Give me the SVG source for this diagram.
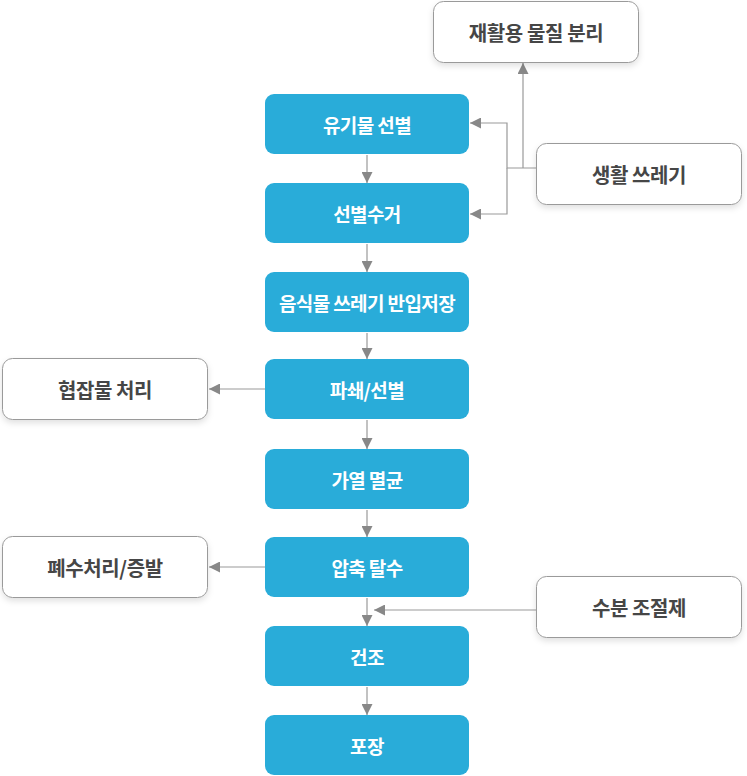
<svg xmlns="http://www.w3.org/2000/svg" width="747" height="776" viewBox="0 0 747 776">
<style>
.b rect{fill:#29acd9}
.b text{fill:#fff;font-family:"Noto Sans CJK KR","Noto Sans",sans-serif;font-size:19px;font-weight:700;text-anchor:middle;dominant-baseline:central;letter-spacing:-0.6px}
.w rect{fill:#fff;stroke:#9a9a9a;stroke-width:1;filter:url(#sh)}
.w text{fill:#464646;font-family:"Noto Sans CJK KR","Noto Sans",sans-serif;font-size:20px;font-weight:700;text-anchor:middle;dominant-baseline:central;letter-spacing:-0.4px}
#edges path{fill:none;stroke:#999;stroke-width:1.2}
</style>
<defs>
<filter id="sh" x="-10%" y="-20%" width="120%" height="150%">
<feDropShadow dx="0" dy="3" stdDeviation="3" flood-color="#000" flood-opacity="0.12"/>
</filter>
<marker id="ah" viewBox="0 0 10 10" refX="10" refY="5" markerWidth="11" markerHeight="11" markerUnits="userSpaceOnUse" orient="auto">
<path d="M0,0 L10,5 L0,10 Z" fill="#888"/>
</marker>
</defs>
<g id="edges">
<path d="M367,155 V183" marker-end="url(#ah)"/>
<path d="M367,244 V272" marker-end="url(#ah)"/>
<path d="M367,333 V359" marker-end="url(#ah)"/>
<path d="M367,420 V449" marker-end="url(#ah)"/>
<path d="M367,510 V537" marker-end="url(#ah)"/>
<path d="M367,598 V626" marker-end="url(#ah)"/>
<path d="M367,687 V715" marker-end="url(#ah)"/>
<path d="M536,168 H507 V123 H470" marker-end="url(#ah)"/>
<path d="M507,168 V214 H470" marker-end="url(#ah)"/>
<path d="M523,168 V63" marker-end="url(#ah)"/>
<path d="M265,389 H209" marker-end="url(#ah)"/>
<path d="M265,567 H209" marker-end="url(#ah)"/>
<path d="M536,610 H374" marker-end="url(#ah)"/>
</g>
<g id="n1" class="b"><rect x="265" y="94" width="204" height="60" rx="9"/><text x="367" y="124">유기물 선별</text></g>
<g id="n2" class="b"><rect x="265" y="183" width="204" height="60" rx="9"/><text x="367" y="213">선별수거</text></g>
<g id="n3" class="b"><rect x="265" y="272" width="204" height="60" rx="9"/><text x="367" y="302">음식물 쓰레기 반입저장</text></g>
<g id="n4" class="b"><rect x="265" y="359" width="204" height="60" rx="9"/><text x="367" y="389">파쇄/선별</text></g>
<g id="n5" class="b"><rect x="265" y="449" width="204" height="60" rx="9"/><text x="367" y="479">가열 멸균</text></g>
<g id="n6" class="b"><rect x="265" y="537" width="204" height="60" rx="9"/><text x="367" y="567">압축 탈수</text></g>
<g id="n7" class="b"><rect x="265" y="626" width="204" height="60" rx="9"/><text x="367" y="656">건조</text></g>
<g id="n8" class="b"><rect x="265" y="715" width="204" height="60" rx="9"/><text x="367" y="745">포장</text></g>
<g id="w1" class="w"><rect x="433.5" y="1.5" width="205" height="61" rx="10"/><text x="536" y="32">재활용 물질 분리</text></g>
<g id="w2" class="w"><rect x="536.5" y="143.5" width="205" height="61" rx="10"/><text x="639" y="174">생활 쓰레기</text></g>
<g id="w3" class="w"><rect x="2.5" y="358.5" width="205" height="61" rx="10"/><text x="105" y="389">협잡물 처리</text></g>
<g id="w4" class="w"><rect x="2.5" y="536.5" width="205" height="61" rx="10"/><text x="105" y="567">폐수처리/증발</text></g>
<g id="w5" class="w"><rect x="536.5" y="576.5" width="205" height="61" rx="10"/><text x="639" y="607">수분 조절제</text></g>
</svg>
